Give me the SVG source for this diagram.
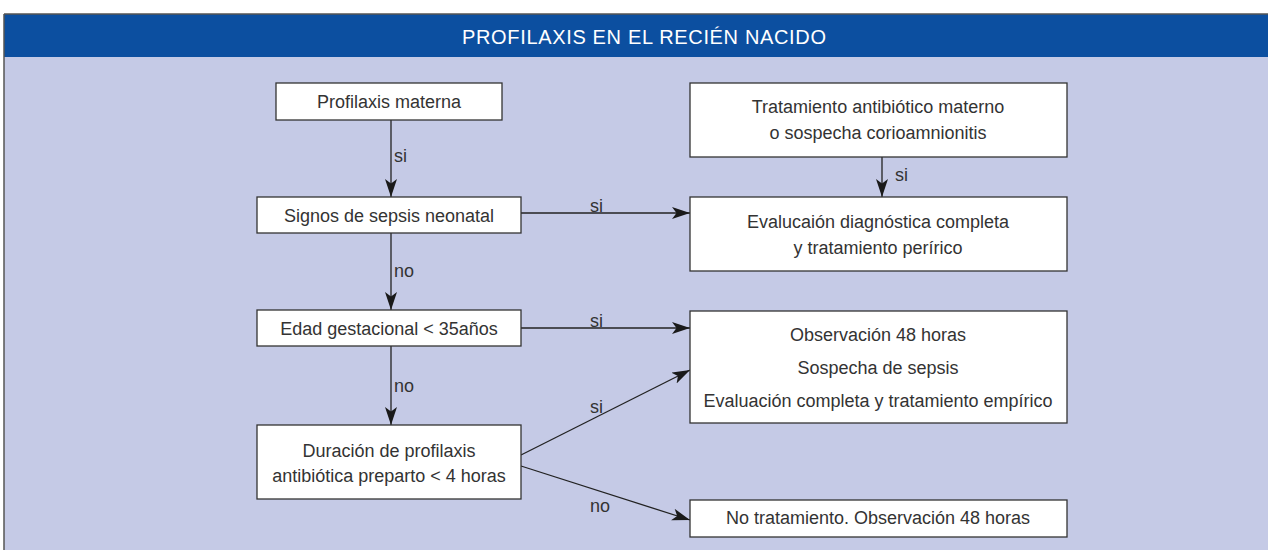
<svg xmlns="http://www.w3.org/2000/svg" width="1268" height="550" viewBox="0 0 1268 550">
<style>
.box{fill:#fff;stroke:#333;stroke-width:1.3}
.t{font-family:"Liberation Sans",Arial,sans-serif;font-size:18px;fill:#333;text-anchor:middle}
.l{font-family:"Liberation Sans",Arial,sans-serif;font-size:18px;fill:#333}
.c{stroke:#222;stroke-width:1.3;fill:none}
</style>
<defs>
<marker id="ah" markerUnits="userSpaceOnUse" markerWidth="20" markerHeight="14" refX="18" refY="6" orient="auto">
<path d="M0,0 L18,6 L0,12 L4.5,6 z" fill="#1a1a1a"/>
</marker>
</defs>
<rect x="0" y="0" width="1268" height="550" fill="#fff"/>
<rect x="4" y="14" width="1264" height="536" fill="#c5cae6"/>
<rect x="4" y="14" width="1264" height="43" fill="#0c4fa0"/>
<line x1="4" y1="14" x2="1268" y2="14" stroke="#555" stroke-width="1.5"/>
<line x1="4" y1="14" x2="4" y2="550" stroke="#555" stroke-width="1.5"/>
<text x="644" y="44" font-family="Liberation Sans,Arial,sans-serif" font-size="20" fill="#fff" text-anchor="middle" textLength="364">PROFILAXIS EN EL RECIÉN NACIDO</text>

<g id="connectors">
<line class="c" x1="391" y1="120" x2="391" y2="197" marker-end="url(#ah)"/>
<line class="c" x1="391" y1="233" x2="391" y2="310" marker-end="url(#ah)"/>
<line class="c" x1="391" y1="346" x2="391" y2="425" marker-end="url(#ah)"/>
<line class="c" x1="521" y1="213" x2="690" y2="213" marker-end="url(#ah)"/>
<line class="c" x1="521" y1="328" x2="690" y2="328" marker-end="url(#ah)"/>
<line class="c" x1="521" y1="455" x2="690" y2="370" marker-end="url(#ah)"/>
<line class="c" x1="521" y1="466" x2="690" y2="520" marker-end="url(#ah)"/>
<line class="c" x1="882" y1="157" x2="882" y2="197" marker-end="url(#ah)"/>
<text class="l" x="394" y="162">si</text>
<text class="l" x="394" y="277">no</text>
<text class="l" x="394" y="392">no</text>
<text class="l" x="590" y="212">si</text>
<text class="l" x="590" y="327">si</text>
<text class="l" x="590" y="413">si</text>
<text class="l" x="590" y="512">no</text>
<text class="l" x="895" y="181">si</text>
</g>

<g id="n1">
<rect class="box" x="276" y="83" width="226" height="37"/>
<text class="t" x="389" y="108">Profilaxis materna</text>
</g>
<g id="n2">
<rect class="box" x="257" y="197" width="264" height="36"/>
<text class="t" x="389" y="222">Signos de sepsis neonatal</text>
</g>
<g id="n3">
<rect class="box" x="257" y="310" width="264" height="36"/>
<text class="t" x="389" y="335">Edad gestacional &lt; 35años</text>
</g>
<g id="n4">
<rect class="box" x="257" y="425" width="264" height="74"/>
<text class="t" x="389" y="457">Duración de profilaxis</text>
<text class="t" x="389" y="482">antibiótica preparto &lt; 4 horas</text>
</g>
<g id="n5">
<rect class="box" x="690" y="83" width="377" height="74"/>
<text class="t" x="878" y="113">Tratamiento antibiótico materno</text>
<text class="t" x="878" y="139">o sospecha corioamnionitis</text>
</g>
<g id="n6">
<rect class="box" x="690" y="197" width="377" height="74"/>
<text class="t" x="878" y="228">Evalucaión diagnóstica completa</text>
<text class="t" x="878" y="254">y tratamiento perírico</text>
</g>
<g id="n7">
<rect class="box" x="690" y="311" width="377" height="112"/>
<text class="t" x="878" y="341">Observación 48 horas</text>
<text class="t" x="878" y="374">Sospecha de sepsis</text>
<text class="t" x="878" y="407">Evaluación completa y tratamiento empírico</text>
</g>
<g id="n8">
<rect class="box" x="690" y="500" width="377" height="37"/>
<text class="t" x="878" y="524">No tratamiento. Observación 48 horas</text>
</g>
</svg>
